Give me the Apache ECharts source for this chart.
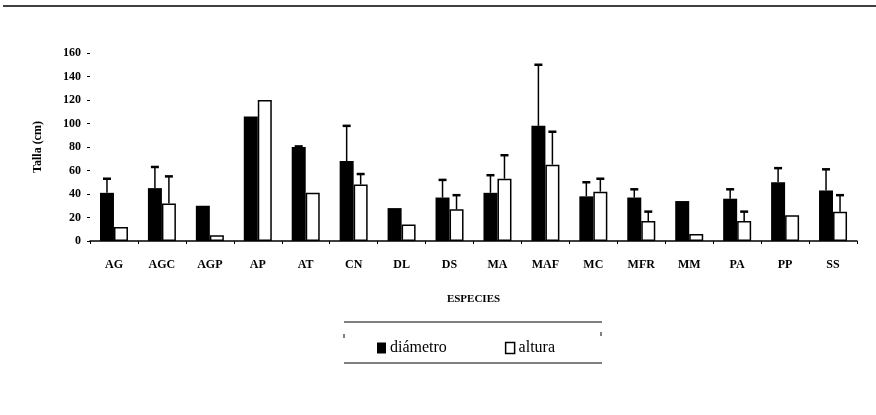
<!DOCTYPE html>
<html>
<head>
<meta charset="utf-8">
<script src="https://cdn.jsdelivr.net/npm/echarts@6/dist/echarts.min.js"></script>
<style>
  html, body { margin: 0; padding: 0; background: #fff; }
  #chart { width: 876px; height: 415px; }
</style>
</head>
<body>
<div id="chart"></div>
<script>
// categories and values
const species = ['AG', 'AGC', 'AGP', 'AP', 'AT', 'CN', 'DL', 'DS', 'MA', 'MAF', 'MC', 'MFR', 'MM', 'PA', 'PP', 'SS'];
const diametro = [41, 45, 30, 106, 80, 68, 28, 37, 41, 98, 38, 37, 34, 36, 50, 43];
const diametroErr = [12, 18, 0, 0, 0.5, 30, 0, 15, 15, 52, 12, 7, 0, 8, 12, 18];
const altura = [12, 32, 5, 120, 41, 48, 14, 27, 53, 65, 42, 17, 6, 17, 22, 25];
const alturaErr = [0, 23, 0, 0, 0, 9, 0, 12, 20, 28, 11, 8, 0, 8, 0, 14];
const yTicks = [0, 20, 40, 60, 80, 100, 120, 140, 160];

const BAR_W = 14;
const serif = '"Liberation Serif", "DejaVu Serif", serif';

// one upward error bar per bar, placed with the axis scales
function errorSeries(name, means, errs, side) {
  return {
    type: 'custom',
    name: name + '-err',
    z: 5,
    data: means.map((m, i) => [i, m, m + errs[i]]),
    renderItem: function (params, api) {
      const i = api.value(0);
      const lo = api.coord([i, api.value(1)]);
      const hi = api.coord([i, api.value(2)]);
      if (api.value(2) - api.value(1) <= 0) return null;
      const x = lo[0] + side * BAR_W / 2;
      return {
        type: 'group',
        children: [
          { type: 'line', shape: { x1: x, y1: lo[1], x2: x, y2: hi[1] },
            style: { stroke: '#000', lineWidth: 1.5 } },
          { type: 'line', shape: { x1: x - 4, y1: hi[1], x2: x + 4, y2: hi[1] },
            style: { stroke: '#000', lineWidth: 2.5 } }
        ]
      };
    }
  };
}

const chart = echarts.init(document.getElementById('chart'));
chart.setOption({
  animation: false,
  backgroundColor: '#fff',
  grid: { left: 90, right: 19, top: 53, bottom: 174 },
  legend: {
    data: [
      { name: 'diámetro', icon: 'rect', itemStyle: { color: '#000' } },
      { name: 'altura', icon: 'rect', itemStyle: { color: '#fff', borderColor: '#000', borderWidth: 1.5 } }
    ],
    left: 372,
    top: 335,
    itemWidth: 9,
    itemHeight: 11,
    itemGap: 58,
    textStyle: { fontFamily: serif, fontSize: 16, color: '#000', padding: [0, 0, 0, -1] }
  },
  xAxis: {
    type: 'category',
    data: species,
    name: 'ESPECIES',
    nameLocation: 'middle',
    nameGap: 53,
    nameTextStyle: { fontFamily: serif, fontSize: 11, fontWeight: 'bold', color: '#000' },
    axisLine: { lineStyle: { color: '#000', width: 1.5 } },
    axisTick: { show: true, length: 3, lineStyle: { color: '#000' } },
    axisLabel: { fontFamily: serif, fontSize: 12, fontWeight: 'bold', color: '#000', margin: 18 }
  },
  yAxis: {
    type: 'value',
    min: 0,
    max: 160,
    interval: 20,
    name: 'Talla (cm)',
    nameLocation: 'middle',
    nameRotate: 90,
    nameGap: 46,
    nameTextStyle: { fontFamily: serif, fontSize: 12, fontWeight: 'bold', color: '#000' },
    axisLine: { show: false },
    axisTick: { show: true, length: 3, lineStyle: { color: '#000' } },
    splitLine: { show: false },
    axisLabel: {
      fontFamily: serif, fontSize: 12, fontWeight: 'bold', color: '#000', margin: 9,
      formatter: v => yTicks.includes(v) ? String(v) : ''
    }
  },
  series: [
    {
      name: 'diámetro', type: 'bar', data: diametro, barWidth: BAR_W, barGap: '0%',
      itemStyle: { color: '#000' }
    },
    {
      name: 'altura', type: 'bar', data: altura, barWidth: BAR_W, barGap: '0%',
      itemStyle: { color: '#fff', borderColor: '#000', borderWidth: 1.5 }
    },
    errorSeries('diámetro', diametro, diametroErr, -1),
    errorSeries('altura', altura, alturaErr, 1)
  ],
  graphic: [
    { type: 'line', shape: { x1: 3, y1: 6, x2: 876, y2: 6 }, style: { stroke: '#000', lineWidth: 1.5 } },
    { type: 'line', shape: { x1: 344, y1: 322, x2: 602, y2: 322 }, style: { stroke: '#000', lineWidth: 1.2 } },
    { type: 'line', shape: { x1: 344, y1: 363, x2: 602, y2: 363 }, style: { stroke: '#000', lineWidth: 1.2 } },
    { type: 'line', shape: { x1: 344, y1: 334, x2: 344, y2: 338 }, style: { stroke: '#000', lineWidth: 1 } },
    { type: 'line', shape: { x1: 601, y1: 332, x2: 601, y2: 336 }, style: { stroke: '#000', lineWidth: 1 } }
  ]
});
</script>
</body>
</html>
